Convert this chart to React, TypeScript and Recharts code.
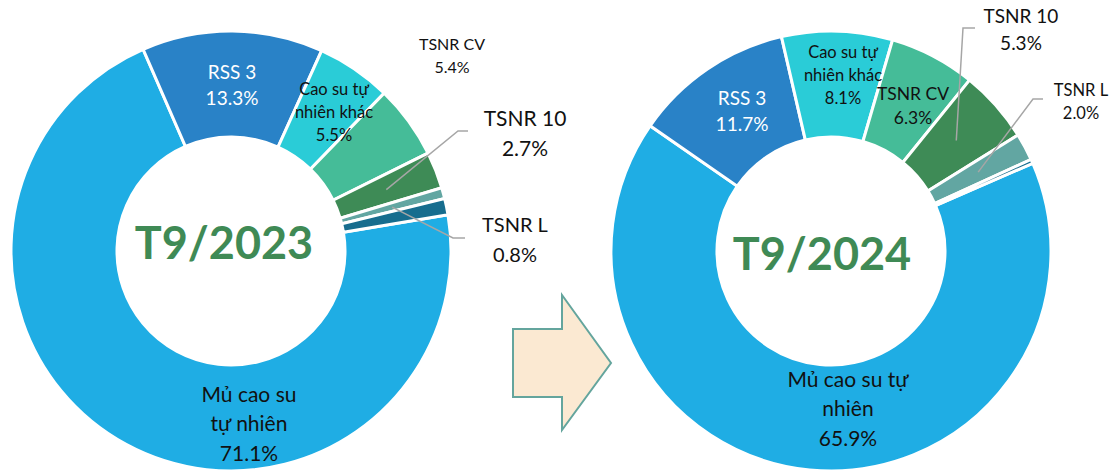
import React from 'react';
import { PieChart, Pie, Cell } from 'recharts';

// số liệu cơ cấu xuất khẩu cao su (%)
const CATEGORIES = ['Mủ cao su tự nhiên', 'RSS 3', 'Cao su tự nhiên khác', 'TSNR CV', 'TSNR 10', 'TSNR L', 'Khác'];
const SHARE_2023 = [71.1, 13.3, 5.5, 5.4, 2.7, 0.8, 1.2];
const SHARE_2024 = [65.9, 11.7, 8.1, 6.3, 5.3, 2.0, 0.3];
const PERIODS = ['T9/2023', 'T9/2024'];

const COLORS = ['#1FADE4', '#2982C7', '#2ACCD7', '#45BC98', '#3E8B56', '#62A6A2', '#176D8E'];
const FONT = 'Lato, "Noto Sans", sans-serif';
const OUTER = 220;
const INNER = 114;
const RAD = Math.PI / 180;

const toRows = (values: number[]) => CATEGORIES.map((name, i) => ({ name, value: values[i] }));

type Spot = {
  x: number; y: number; size: number; gap: number; color: string;
  lines?: string[]; elbow?: [number, number]; end?: number;
} | null;

// vị trí nhãn (giống file Excel gốc)
const SPOTS_2023: Spot[] = [
  { x: 249, y: 393, size: 21, gap: 29.5, color: '#111', lines: ['Mủ cao su', 'tự nhiên'] },
  { x: 232, y: 71, size: 19, gap: 26, color: '#fff' },
  { x: 334, y: 89, size: 16.5, gap: 23, color: '#111', lines: ['Cao su tự', 'nhiên khác'] },
  { x: 452, y: 43, size: 16, gap: 23, color: '#111' },
  { x: 525, y: 117, size: 21, gap: 30, color: '#111', elbow: [458, 131], end: 468 },
  { x: 515, y: 224, size: 20, gap: 30, color: '#111', elbow: [453, 238], end: 465 },
  null,
];
const SPOTS_2024: Spot[] = [
  { x: 848, y: 378, size: 21, gap: 29.5, color: '#111', lines: ['Mủ cao su tự', 'nhiên'] },
  { x: 742, y: 97, size: 19, gap: 26, color: '#fff' },
  { x: 843, y: 52, size: 16.5, gap: 23, color: '#111', lines: ['Cao su tự', 'nhiên khác'] },
  { x: 913, y: 93, size: 17.5, gap: 24, color: '#111' },
  { x: 1021, y: 15, size: 19, gap: 27, color: '#111', elbow: [963, 28], end: 975 },
  { x: 1081, y: 90, size: 16.5, gap: 23, color: '#111', elbow: [1033, 99], end: 1043 },
  null,
];

const makeLabel = (spots: Spot[]) => (props: any) => {
  const { index, cx, cy, midAngle, name, value } = props;
  const s = spots[index];
  if (!s) return null;
  const lines = [...(s.lines || [name]), `${value.toFixed(1)}%`];
  let leader = null;
  if (s.elbow) {
    const r = (INNER + OUTER) / 2;
    const ax = cx + r * Math.cos(-midAngle * RAD);
    const ay = cy + r * Math.sin(-midAngle * RAD);
    leader = (
      <polyline
        points={`${ax},${ay} ${s.elbow[0]},${s.elbow[1]} ${s.end},${s.elbow[1]}`}
        fill="none"
        stroke="#A6A6A6"
        strokeWidth={1.5}
      />
    );
  }
  return (
    <g key={`lbl-${index}`}>
      {leader}
      {lines.map((t, i) => (
        <text
          key={i}
          x={s.x}
          y={s.y + i * s.gap}
          textAnchor="middle"
          dominantBaseline="central"
          fill={s.color}
          fontSize={s.size}
          fontFamily={FONT}
        >
          {t}
        </text>
      ))}
    </g>
  );
};

const Donut = ({ data, cx, start, spots }: any) => (
  <Pie
    data={data}
    dataKey="value"
    nameKey="name"
    cx={cx}
    cy={251}
    innerRadius={INNER}
    outerRadius={OUTER}
    startAngle={start}
    endAngle={start - 360}
    stroke="#fff"
    strokeWidth={3}
    label={makeLabel(spots)}
    labelLine={false}
    isAnimationActive={false}
  >
    {data.map((_: any, i: number) => (
      <Cell key={i} fill={COLORS[i]} />
    ))}
  </Pie>
);

export default function App() {
  return (
    <div style={{ position: 'absolute', left: 0, top: 0, width: 1112, height: 472, background: '#fff' }}>
      <svg width={1112} height={472} style={{ position: 'absolute', left: 0, top: 0 }}>
        <polygon
          points="513,329 562,329 562,295 611,363 562,430 562,397 513,397"
          fill="#FBE9D2"
          stroke="#64A59D"
          strokeWidth={2}
        />
      </svg>
      <div style={{ position: 'absolute', left: 0, top: 0 }}>
        <PieChart width={1112} height={472} margin={{ top: 0, right: 0, bottom: 0, left: 0 }}>
          {Donut({ data: toRows(SHARE_2023), cx: 231, start: 9.5, spots: SPOTS_2023 })}
          {Donut({ data: toRows(SHARE_2024), cx: 831, start: 23.5, spots: SPOTS_2024 })}
        </PieChart>
      </div>
      <svg width={1112} height={472} style={{ position: 'absolute', left: 0, top: 0, pointerEvents: 'none' }}>
        <text x={224} y={242} textAnchor="middle" dominantBaseline="central" fill="#3F8A55"
          fontSize={45} fontWeight={700} fontFamily={FONT}>{PERIODS[0]}</text>
        <text x={822} y={253} textAnchor="middle" dominantBaseline="central" fill="#3F8A55"
          fontSize={45} fontWeight={700} fontFamily={FONT}>{PERIODS[1]}</text>
      </svg>
    </div>
  );
}
